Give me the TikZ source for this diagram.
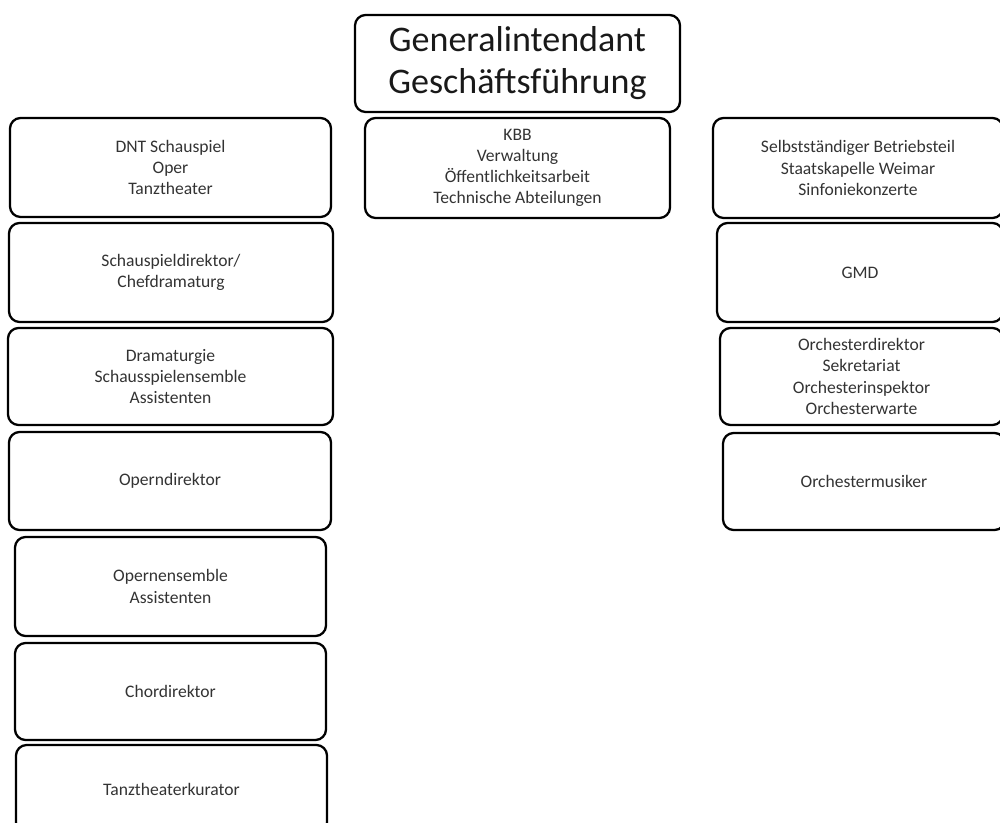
\documentclass[tikz,border=0pt]{standalone}
\usepackage{fontspec}
\setmainfont{Carlito}
\usepackage{xcolor}
\usepackage{tikz}

\tikzset{
    unit/.style={draw=black, line width=1.3pt, rounded corners=6pt, align=center,
        inner sep=0pt, text=black!80, font=\fontsize{10}{12}\selectfont},
    head/.style={unit, text=black!90, font=\fontsize{20.5}{24}\selectfont}
}

\begin{document}
\begin{tikzpicture}
\useasboundingbox (0,0) rectangle (20,-16.46);
\clip (0,0) rectangle (20,-16.46);

% Leitung
\node[head, minimum width=6.5cm, minimum height=1.94cm] (gi) at (10.35,-1.27)
    {Generalintendant\\Geschäftsführung};
\node[unit, minimum width=6.1cm, minimum height=2.0cm] (kbb) at (10.35,-3.36)
    {KBB\\Verwaltung\\Öffentlichkeitsarbeit\\Technische Abteilungen};

% Linke Spalte
\node[unit, minimum width=6.42cm, minimum height=1.98cm] (dnt) at (3.41,-3.35)
    {DNT Schauspiel\\Oper\\Tanztheater};
\node[unit, minimum width=6.48cm, minimum height=1.98cm] (schauspieldir) at (3.42,-5.45)
    {Schauspieldirektor/\\Chefdramaturg};
\node[unit, minimum width=6.5cm, minimum height=1.94cm] (dramaturgie) at (3.41,-7.53)
    {Dramaturgie\\Schausspielensemble\\Assistenten};
\node[unit, minimum width=6.44cm, minimum height=1.96cm] (operndir) at (3.40,-9.62)
    {Operndirektor};
\node[unit, minimum width=6.22cm, minimum height=1.98cm] (opernensemble) at (3.41,-11.73)
    {Opernensemble\\Assistenten};
\node[unit, minimum width=6.22cm, minimum height=1.94cm] (chordir) at (3.41,-13.83)
    {Chordirektor};
\node[unit, minimum width=6.22cm, minimum height=1.76cm] (tanzkurator) at (3.43,-15.78)
    {Tanztheaterkurator};

% Rechte Spalte
\node[unit, minimum width=5.8cm, minimum height=2.0cm] (staatskapelle) at (17.16,-3.36)
    {Selbstständiger Betriebsteil\\Staatskapelle Weimar\\Sinfoniekonzerte};
\node[unit, minimum width=5.72cm, minimum height=1.98cm] (gmd) at (17.2,-5.45)
    {GMD};
\node[unit, minimum width=5.66cm, minimum height=1.94cm] (orchesterdir) at (17.23,-7.53)
    {Orchesterdirektor\\Sekretariat\\Orchesterinspektor\\Orchesterwarte};
\node[unit, minimum width=5.64cm, minimum height=1.94cm] (musiker) at (17.28,-9.63)
    {Orchestermusiker};
\end{tikzpicture}
\end{document}
